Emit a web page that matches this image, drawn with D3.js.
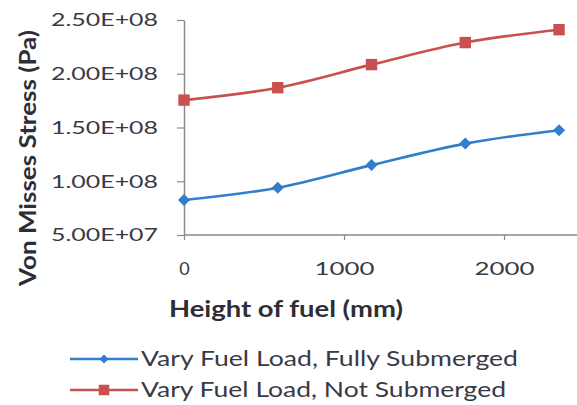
<!DOCTYPE html>
<meta charset="utf-8">
<script src="https://d3js.org/d3.v7.min.js"></script>
<style>
  body { margin: 0; background: #fff; }
  text { font-family: Lato, "Open Sans", sans-serif; }
</style>
<div id="chart"></div>
<script>
// data
const heights = [0, 586, 1172, 1758, 2344];
const fullySubmerged = [8.25e7, 9.4e7, 1.15e8, 1.35e8, 1.475e8];
const notSubmerged = [1.755e8, 1.87e8, 2.085e8, 2.29e8, 2.41e8];
const yTicks = [5e7, 1e8, 1.5e8, 2e8, 2.5e8];
const xTicks = [0, 1000, 2000];
const seriesNames = ["Vary Fuel Load, Fully Submerged", "Vary Fuel Load, Not Submerged"];

const W = 577, H = 405;
const blue = "#2f7fcc", red = "#c8504f";
const textColor = "#3a3a44";

const svg = d3.select("#chart").append("svg")
  .attr("width", W).attr("height", H);

const x = d3.scaleLinear().domain([0, 2500]).range([184, 584]);
const y = d3.scaleLinear().domain([5e7, 2.5e8]).range([235, 20]);

const sci = d => d.toExponential(2).toUpperCase().replace(/E([+-])(\d)$/, "E$10$2");

// axes
const yAxis = svg.append("g").attr("transform", "translate(184,0)")
  .call(d3.axisLeft(y).tickValues(yTicks).tickSize(7).tickSizeOuter(0).tickFormat(sci));
const xAxis = svg.append("g").attr("transform", "translate(0,235)")
  .call(d3.axisBottom(x).tickValues(xTicks).tickSize(5).tickSizeOuter(0).tickFormat(d3.format("d")));

[yAxis, xAxis].forEach(a => {
  a.select(".domain").attr("stroke", "#8a8a8a").attr("stroke-width", 1.5);
  a.selectAll(".tick line").attr("stroke", "#8a8a8a").attr("stroke-width", 1.2);
  a.selectAll("text").attr("fill", textColor).style("font-size", "18px");
});
yAxis.selectAll("text").attr("x", -26).attr("dy", "0.33em")
  .attr("textLength", 107).attr("lengthAdjust", "spacingAndGlyphs");
xAxis.selectAll("text").attr("y", 0).attr("dy", "2.2em");
xAxis.selectAll(".tick text").filter(d => d > 0)
  .attr("textLength", 60).attr("lengthAdjust", "spacingAndGlyphs");
xAxis.select(".domain").attr("d", "M184,0H577");

// axis titles
svg.append("text")
  .attr("transform", "translate(36,158) rotate(-90)")
  .attr("text-anchor", "middle")
  .style("font-size", "22px").style("font-weight", "bold")
  .attr("fill", "#2e2e36")
  .attr("textLength", 256).attr("lengthAdjust", "spacingAndGlyphs")
  .text("Von Misses Stress (Pa)");
svg.append("text")
  .attr("x", 286).attr("y", 317)
  .attr("text-anchor", "middle")
  .style("font-size", "22px").style("font-weight", "bold")
  .attr("fill", "#2e2e36")
  .attr("textLength", 234).attr("lengthAdjust", "spacingAndGlyphs")
  .text("Height of fuel (mm)");

// lines
const line = d3.line().curve(d3.curveMonotoneX)
  .x((d, i) => x(heights[i])).y(d => y(d));

const series = [
  { name: seriesNames[0], values: fullySubmerged, color: blue, diamond: true },
  { name: seriesNames[1], values: notSubmerged, color: red, diamond: false }
];

const marker = (s, size) => d3.symbol(d3.symbolSquare, size)();

series.forEach(s => {
  svg.append("path").attr("d", line(s.values))
    .attr("fill", "none").attr("stroke", s.color).attr("stroke-width", 2.6);
  svg.append("g").selectAll("path").data(s.values).join("path")
    .attr("transform", (d, i) => `translate(${x(heights[i])},${y(d)})` + (s.diamond ? " rotate(45)" : ""))
    .attr("d", marker(s, s.diamond ? 72 : 130))
    .attr("fill", s.color);
});

// legend
const legend = svg.append("g");
const legendLen = [377, 365];
series.forEach((s, i) => {
  const ly = 359 + i * 31;
  legend.append("line").attr("x1", 70).attr("x2", 138).attr("y1", ly).attr("y2", ly)
    .attr("stroke", s.color).attr("stroke-width", 2.4);
  legend.append("path")
    .attr("transform", `translate(104,${ly})` + (s.diamond ? " rotate(45)" : ""))
    .attr("d", marker(s, s.diamond ? 40 : 110))
    .attr("fill", s.color);
  legend.append("text").attr("x", 141).attr("y", ly + 7)
    .style("font-size", "22px").attr("fill", textColor)
    .attr("textLength", legendLen[i]).attr("lengthAdjust", "spacingAndGlyphs")
    .text(s.name);
});
</script>
